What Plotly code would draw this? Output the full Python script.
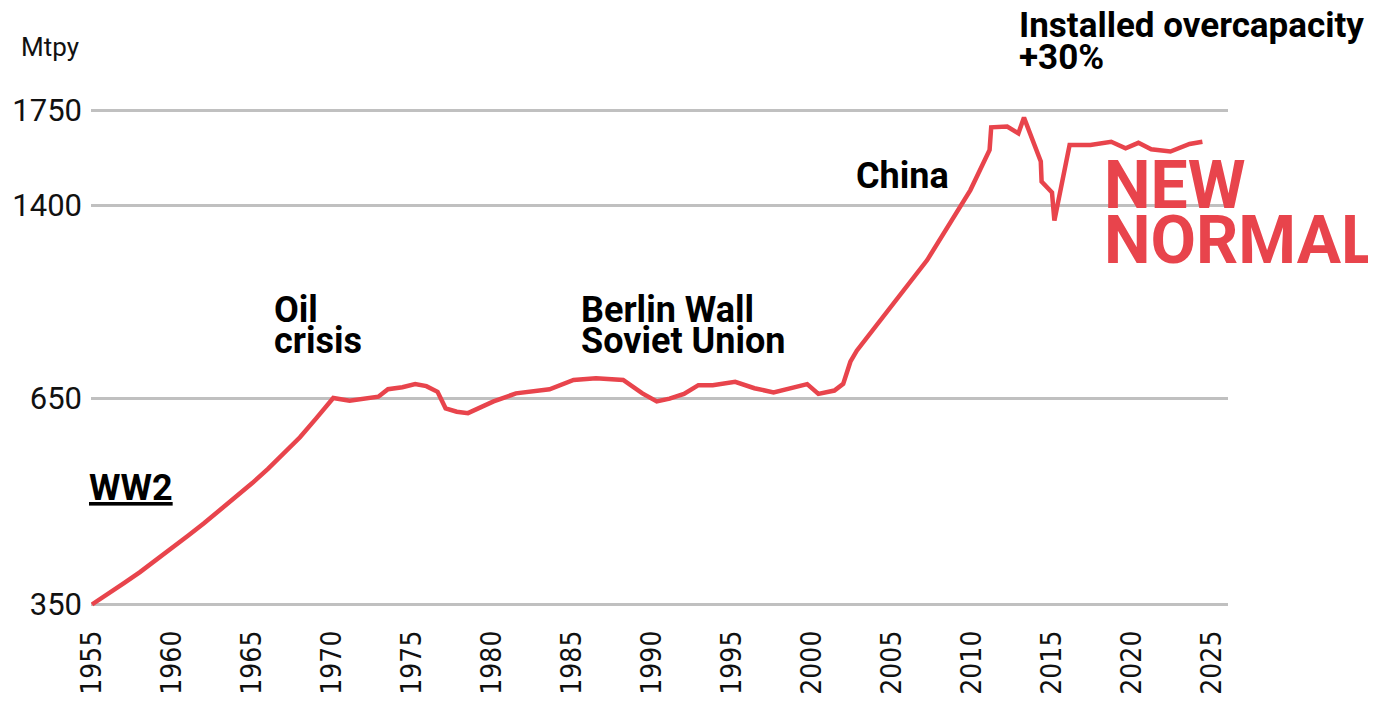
import numpy as np
import plotly.graph_objects as go

# ---- data ----
years = [1955, 1956, 1957, 1958, 1959, 1960, 1961, 1962, 1963, 1964, 1965, 1966,
         1967, 1968, 1969, 1970.08, 1971.1, 1972.9, 1973.5, 1974.4, 1975.2, 1975.9,
         1976.6, 1977.1, 1977.8, 1978.5, 1980.1, 1981.5, 1983.6, 1985.1, 1986.5,
         1988.2, 1989.4, 1990.3, 1991.1, 1992.0, 1992.9, 1993.8, 1995.2, 1996.4,
         1997.6, 1998.6, 1999.7, 2000.4, 2001.4, 2001.95, 2002.4, 2002.8, 2003.4,
         2006.5, 2007.2, 2009.9, 2011.1, 2011.2, 2012.2, 2012.9, 2013.25, 2014.3,
         2014.35, 2015.0, 2015.15, 2016.1, 2017.4, 2018.7, 2019.6, 2020.4, 2021.2,
         2022.4, 2023.6, 2024.4]
mtpy = [350, 365, 381, 397, 414, 432, 450, 468, 487, 506, 526, 547,
        569, 593, 620, 650, 646, 655, 684, 692, 704, 696,
        674, 635, 630, 628, 645, 668, 684, 720, 727,
        720, 668, 645, 649, 666, 700, 700, 713, 688,
        672, 688, 704, 666, 679, 705, 791, 834, 882,
        1128, 1186, 1455, 1603, 1686, 1689, 1664, 1722, 1560,
        1486, 1446, 1340, 1621, 1621, 1633, 1609, 1629, 1605,
        1597, 1625, 1633]

y_tick_values = [350, 650, 1400, 1750]
y_tick_labels = ["350", "650", "1400", "1750"]
# the reference axis is not linear: spacing between labelled levels
y_tick_positions = [0, 206.5, 399.5, 494.5]
x_tick_values = list(range(1955, 2030, 5))
x_tick_labels = [str(v) for v in x_tick_values]

RED = "#e8444c"


def scale_y(v):
    return np.interp(v, y_tick_values, y_tick_positions)


fig = go.Figure()
fig.add_trace(go.Scatter(
    x=years, y=scale_y(mtpy), mode="lines",
    line=dict(color=RED, width=4.5), hoverinfo="skip", showlegend=False))

# ---- layout geometry (page body has an 8px margin) ----
OFF = 8
W, H = 1368, 688
L, T = 83, 92
PW, PH = 1137, 510
R, B = W - L - PW, H - T - PH


def px(xs, ys):
    """screen pixel -> paper coords"""
    xf, yf = xs - OFF, ys - OFF
    return (xf - L) / PW, (T + PH - yf) / PH


def note(text, xs, ys, size=36, color="#000", weight=700, family="Roboto"):
    ax, ay = px(xs, ys)
    fig.add_annotation(text=text, x=ax, y=ay, xref="paper", yref="paper",
                       xanchor="left", yanchor="middle", showarrow=False,
                       font=dict(family=family, size=size, color=color, weight=weight),
                       borderpad=0)


note("Mtpy", 20, 47, size=26, color="#111", weight=400)
note("Installed overcapacity", 1018, 25, size=35)
note("+30%", 1018, 57, size=35)
note("China", 855, 176)
note("Oil", 273, 310)
note("crisis", 273, 341)
note("Berlin Wall", 580, 310)
note("Soviet Union", 580, 341)
note("<u>WW2</u>", 88, 488)
note("NEW", 1103, 186, size=66, color=RED)
note("NORMAL", 1103, 240, size=66, color=RED)

fig.update_layout(
    width=W, height=H,
    margin=dict(l=L, r=R, t=T, b=B, autoexpand=False),
    paper_bgcolor="white", plot_bgcolor="white",
    xaxis=dict(range=[1954.94, 2026.0], tickvals=x_tick_values, ticktext=x_tick_labels,
               tickangle=-90, showgrid=False, zeroline=False, showline=False, ticks="",
               tickfont=dict(family="DejaVu Sans Condensed, DejaVu Sans", size=28, color="#111"),
               ticklabelstandoff=14, fixedrange=True),
    yaxis=dict(range=[-5.5, 504.5], tickvals=y_tick_positions, ticktext=y_tick_labels,
               showgrid=True, gridcolor="#c0c0c0", gridwidth=2.5, zeroline=False,
               showline=False, ticks="",
               tickfont=dict(family="Roboto", size=31, color="#111"),
               ticklabelstandoff=8, fixedrange=True),
)

fig.write_html("out.html")
